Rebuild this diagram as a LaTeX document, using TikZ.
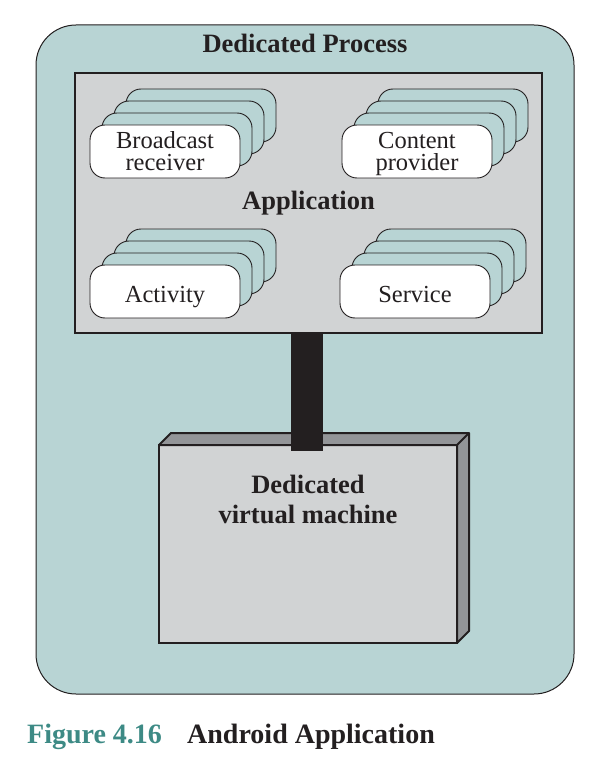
\documentclass[tikz,border=0pt]{standalone}
\usepackage{fontspec}
\setmainfont{Liberation Serif}
\usepackage{tikz}
\usepackage{xcolor}

\definecolor{procteal}{RGB}{184,212,212}
\definecolor{appgray}{RGB}{209,211,212}
\definecolor{vmdark}{RGB}{147,149,152}
\definecolor{inkblack}{RGB}{35,31,32}
\definecolor{capteal}{RGB}{61,138,133}

\tikzset{
  card/.style={draw=inkblack, line width=0.9pt, rounded corners=15pt, minimum width=150pt, minimum height=53pt, inner sep=0pt, align=center, text=inkblack, text depth=0pt, font=\fontsize{24.5}{22}\selectfont},
  backcard/.style={card, fill=procteal},
  frontcard/.style={card, fill=white},
  onecard/.style={frontcard, text height=21pt},
  boldtext/.style={font=\fontsize{26.5}{30}\selectfont\bfseries, text=inkblack},
}

\begin{document}
\begin{tikzpicture}[x=1pt,y=1pt,yscale=-1,xscale=1]
\useasboundingbox (0,0) rectangle (598,762);

%Shape: Rounded Rect [dedicated process]
\node (proc) [draw=inkblack, line width=1pt, fill=procteal, rounded corners=40pt, minimum width=538pt, minimum height=669pt] at (305,359.5) {};
% Text Node
\node (title) [boldtext, anchor=base] at (305,53) {Dedicated Process};

%Shape: Rectangle [application]
\node (app) [draw=inkblack, line width=2.5pt, fill=appgray, minimum width=467pt, minimum height=260pt, boldtext] at (308.5,203) {Application};

%Shape: Card stack [broadcast receiver]
\node (br3) [backcard] at (201,115.5) {};
\node (br2) [backcard] at (189,127.5) {};
\node (br1) [backcard] at (177,139.5) {};
\node (br) [frontcard] at (165,151.5) {Broadcast\\receiver};
%Shape: Card stack [content provider]
\node (cp3) [backcard] at (453,115.5) {};
\node (cp2) [backcard] at (441,127.5) {};
\node (cp1) [backcard] at (429,139.5) {};
\node (cp) [frontcard] at (417,151.5) {Content\\provider};
%Shape: Card stack [activity]
\node (act3) [backcard] at (201,255.5) {};
\node (act2) [backcard] at (189,267.5) {};
\node (act1) [backcard] at (177,279.5) {};
\node (act) [onecard] at (165,291.5) {Activity};
%Shape: Card stack [service]
\node (srv3) [backcard] at (451,255.5) {};
\node (srv2) [backcard] at (439,267.5) {};
\node (srv1) [backcard] at (427,279.5) {};
\node (srv) [onecard] at (415,291.5) {Service};

%Shape: Box [virtual machine]
\node (vm) [draw=inkblack, line width=2.2pt, fill=appgray, outer sep=0pt, minimum width=298pt, minimum height=198pt] at (308,544) {};
\draw [draw=inkblack, line width=2pt, fill=vmdark, line join=round] (vm.north west) -- ++(12,-12) -- ++(298,0) -- ++(0,198) -- ++(-12,12) -- (vm.north east) -- cycle;
\draw [draw=inkblack, line width=2pt] (vm.north east) -- ++(12,-12);
% Text Node
\node (vmtext) [boldtext, align=center, anchor=north, inner sep=0pt] at (308,475) {Dedicated\\virtual machine};

%Straight Lines [link]
\draw [inkblack, line width=32pt] ([xshift=-2pt]app.south) -- ([xshift=-2pt,yshift=6pt]app.south |- vm.north);

% Text Node
\node (fig) [anchor=base west, inner sep=0pt, font=\fontsize{28}{30}\selectfont\bfseries, text=capteal] at (27,743) {Figure 4.16};
% Text Node
\node (caption) [anchor=base west, inner sep=0pt, font=\fontsize{28}{30}\selectfont\bfseries, text=inkblack] at (187,743) {Android Application};
\end{tikzpicture}
\end{document}
